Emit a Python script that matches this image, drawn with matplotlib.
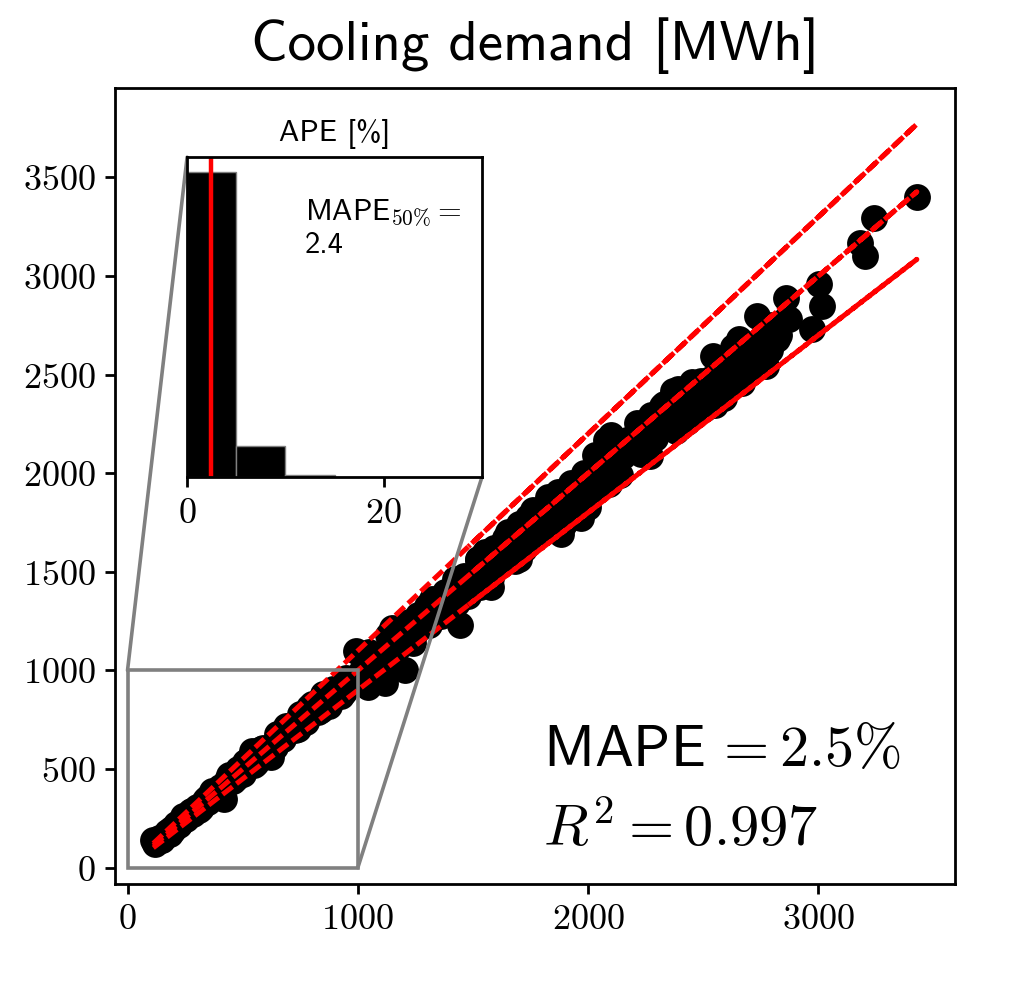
import numpy as np
import matplotlib
matplotlib.use("Agg")
import matplotlib.pyplot as plt
from matplotlib.ticker import FuncFormatter
from matplotlib.patches import Rectangle, ConnectionPatch

actual = [
    112, 118, 125, 135, 145, 160, 172, 185, 198, 210, 225, 240, 255, 270, 285, 300,
    318, 335, 350, 368, 385, 400, 420, 440, 460, 480, 500, 520, 540, 560, 580, 600,
    625, 650, 675, 700, 725, 750, 775, 800, 825, 850, 875, 900, 925, 950, 975, 990,
    1020, 1046, 1080, 1118, 1133, 1147, 1170, 1205, 1230, 1260, 1290, 1320, 1350, 1380,
    1410, 1443, 1460, 1490, 1520, 1550, 1580, 1600, 1630, 1652, 1681, 1700, 1710, 1740,
    1766, 1790, 1825, 1840, 1860, 1883, 1897, 1926, 1940, 1970, 1998, 2013,
    2040, 2078, 2100, 2120, 2157, 2190, 2215, 2244, 2258, 2273, 2300, 2330, 2360, 2388,
    2403, 2420, 2450, 2480, 2503, 2511, 2540, 2570, 2600, 2630, 2655, 2690, 2706, 2735,
    2750, 2771, 2800, 2830, 2857, 2857, 2972, 3001, 3016, 3182, 3203, 3240, 3427,
    1010, 1040, 1070, 1100, 1130, 1160, 1190, 1220, 1250, 1280, 1310, 1340, 1370, 1400,
    1430, 1470, 1500, 1530, 1560, 1590, 1620, 1660, 1690, 1720, 1750, 1780, 1810, 1850,
    1880, 1910, 1950, 1980, 2010, 2050, 2080, 2110, 2140, 2170, 2200, 2230, 2260, 2290,
    2320, 2350, 2380, 2410, 2440, 2470, 2500, 2530, 2560, 2590, 2620, 2650, 2680, 2720,
    2760, 2790,
    150, 190, 230, 275, 310, 345, 390, 430, 470, 510, 550, 590, 640, 690, 740, 790,
    840, 890, 940,
    1520, 1580, 1640, 1700, 1760, 1820, 1870, 1930, 1990, 2030, 2090, 2150, 2210, 2270,
    2310, 2370, 2430, 2490, 2550, 2580, 2610, 2670, 2700, 2740, 2780, 2820, 2870,
    1050, 1110, 1180, 1240, 1300, 1360, 1420, 1480,
]
predicted = [
    140, 118, 130, 150, 138, 155, 180, 172, 190, 220, 214, 262, 245, 282, 270, 310,
    300, 345, 335, 390, 360, 410, 350, 470, 440, 500, 475, 540, 590, 530, 600, 580,
    560, 680, 650, 720, 700, 780, 740, 830, 790, 880, 820, 900, 870, 960, 930, 1100,
    1000, 918, 1060, 936, 1180, 1215, 1110, 1002, 1200, 1280, 1250, 1360, 1320, 1400,
    1370, 1229, 1480, 1450, 1560, 1600, 1421, 1620, 1580, 1700, 1556, 1740, 1640, 1780,
    1724, 1760, 1880, 1858, 1800, 1691, 1740, 1950, 1893, 1774, 1830, 1960,
    2010, 2170, 2195, 2060, 2100, 2150, 2245, 2143, 2261, 2295, 2250, 2350, 2300, 2428,
    2361, 2300, 2460, 2400, 2328, 2353, 2596, 2500, 2560, 2640, 2680, 2600, 2529, 2798,
    2680, 2546, 2750, 2700, 2890, 2781, 2730, 2957, 2848, 3167, 3100, 3293, 3399,
    980, 1050, 1017, 1078, 1062, 1160, 1142, 1244, 1188, 1254, 1231, 1353, 1315, 1372,
    1344, 1470, 1440, 1423, 1529, 1622, 1539, 1610, 1707, 1617, 1715, 1691, 1810, 1776,
    1748, 1872, 1853, 2000, 1950, 1927, 2059, 2026, 1990, 2170, 2134, 2096, 2215, 2176,
    2343, 2256, 2213, 2362, 2318, 2396, 2325, 2479, 2432, 2383, 2541, 2491, 2626, 2584,
    2677, 2623,
    142, 198, 225, 289, 291, 352, 370, 447, 456, 536, 522, 608, 614, 718, 703, 814,
    798, 908, 893,
    1566, 1469, 1673, 1564, 1813, 1711, 1907, 1776, 1910, 2091, 1944, 2086, 2254, 2088,
    2218, 2417, 2260, 2465, 2346, 2503, 2453, 2456, 2592, 2548, 2724, 2679, 2784,
    1092, 1032, 1215, 1141, 1326, 1278, 1463, 1376,
]

# APE histogram (inset)
ape_bin_edges = [0, 5, 10, 15]
ape_counts = [270, 28, 2]
mape_median = 2.4
mape_text = "2.5"
r2_text = "0.997"
zoom_box = (0, 0, 1000, 1000)

plt.rcParams["mathtext.fontset"] = "cm"
plt.rcParams["font.family"] = ["cmss10", "DejaVu Sans"]
plt.rcParams["axes.unicode_minus"] = False
plt.rcParams["axes.linewidth"] = 1.0
plt.rcParams["xtick.major.width"] = 1.0
plt.rcParams["ytick.major.width"] = 1.0

x = np.array(actual, dtype=float)
y = np.array(predicted, dtype=float)

fig = plt.figure(figsize=(5.14, 4.97), dpi=200)
ax = fig.add_axes([0.112, 0.1107, 0.817, 0.8008])

ax.scatter(x, y, s=75, color="black", zorder=1)
# reference lines traced through the data in its own order (overlapping dashes)
line_kw = dict(color="red", ls="--", lw=1.8, dashes=(2.5, 1.0), zorder=2)
ax.plot(x, x, **line_kw)
ax.plot(x, 1.1 * x, **line_kw)
ax.plot(x, 0.9 * x, **line_kw)

fmt = FuncFormatter(lambda v, p: f"${v:g}$")
ax.xaxis.set_major_formatter(fmt)
ax.yaxis.set_major_formatter(fmt)
ax.tick_params(labelsize=13)
ax.set_title("Cooling demand [MWh]", fontsize=20.5, pad=10)

ax.text(0.51, 0.148, r"MAPE$\,=" + mape_text + r"\%$",
        transform=ax.transAxes, fontsize=21, ha="left", va="baseline")
ax.text(0.51, 0.048, r"$R^2=" + r2_text + "$",
        transform=ax.transAxes, fontsize=21, ha="left", va="baseline")

# inset histogram of absolute percentage errors
axin = ax.inset_axes([0.0857, 0.511, 0.351, 0.402])
axin.bar(ape_bin_edges[:-1], ape_counts, width=np.diff(ape_bin_edges), align="edge",
         color="black", edgecolor="grey", linewidth=0.5)
axin.axvline(mape_median, color="red", lw=1.6)
axin.set_xlim(0, 30)
axin.set_xticks([0, 20])
axin.xaxis.set_major_formatter(fmt)
axin.set_yticks([])
axin.tick_params(labelsize=13)
axin.set_title("APE [%]", fontsize=11)
axin.text(0.40, 0.875, r"MAPE$_{50\%}=$" + "\n" + f"{mape_median}",
          transform=axin.transAxes, fontsize=11, ha="left", va="top")

# zoom box and connectors
bx0, by0, bx1, by1 = zoom_box
rect = Rectangle((bx0, by0), bx1 - bx0, by1 - by0, fill=False, edgecolor="grey", lw=1.3, zorder=4.99)
ax.add_artist(rect)
for xy_a, xy_b in [((bx0, by1), (0, 1)), ((bx1, by0), (1, 0))]:
    con = ConnectionPatch(xyA=xy_a, coordsA=ax.transData, xyB=xy_b, coordsB=axin.transAxes,
                          color="grey", lw=1.3, zorder=4.99)
    ax.add_artist(con)

fig.savefig("out.png", dpi=200)
